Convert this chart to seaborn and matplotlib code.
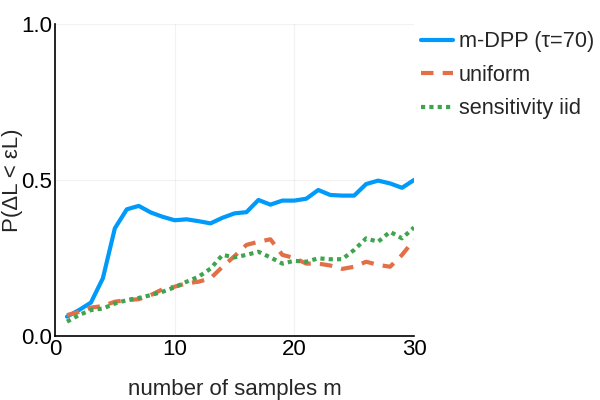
import matplotlib
matplotlib.use("Agg")
import matplotlib.pyplot as plt
import seaborn as sns
import pandas as pd
import numpy as np

m = list(range(1, 31))
mdpp = [0.062, 0.083, 0.107, 0.185, 0.345, 0.406, 0.417, 0.396, 0.382, 0.371,
        0.374, 0.368, 0.361, 0.379, 0.393, 0.397, 0.436, 0.421, 0.434, 0.434,
        0.440, 0.468, 0.452, 0.450, 0.450, 0.487, 0.498, 0.489, 0.475, 0.500]
uniform = [0.067, 0.077, 0.091, 0.096, 0.110, 0.115, 0.118, 0.131, 0.150, 0.158,
           0.169, 0.174, 0.185, 0.222, 0.256, 0.292, 0.302, 0.310, 0.260, 0.250,
           0.232, 0.232, 0.226, 0.215, 0.222, 0.238, 0.228, 0.222, 0.260, 0.308]
sens_iid = [0.046, 0.067, 0.083, 0.088, 0.104, 0.115, 0.122, 0.131, 0.142, 0.156,
            0.174, 0.190, 0.216, 0.260, 0.252, 0.260, 0.270, 0.252, 0.232, 0.241,
            0.238, 0.249, 0.246, 0.246, 0.276, 0.313, 0.302, 0.334, 0.313, 0.348]
series_names = ["m-DPP (τ=70)", "uniform", "sensitivity iid"]
x_ticks = [0, 10, 20, 30]
y_ticks = [0.0, 0.5, 1.0]
y_tick_labels = ["0.0", "0.5", "1.0"]

df = pd.DataFrame({
    "m": m * 3,
    "p": mdpp + uniform + sens_iid,
    "method": [series_names[0]] * 30 + [series_names[1]] * 30 + [series_names[2]] * 30,
})

sns.set_style("white")
plt.rcParams['font.family'] = ['Liberation Sans', 'DejaVu Sans']

fig = plt.figure(figsize=(6, 4), dpi=100)
ax = fig.add_axes([55/600, 64/400, (414-55)/600, (336-24)/400])

palette = {series_names[0]: "#009AFA", series_names[1]: "#E36F47", series_names[2]: "#3EA44E"}
dashes = {series_names[0]: "", series_names[1]: (3, 2.2), series_names[2]: (1, 1)}
sns.lineplot(data=df, x="m", y="p", hue="method", style="method",
             palette=palette, dashes=dashes, linewidth=3, ax=ax, legend=True)

ax.set_xlim(0, 30)
ax.set_ylim(0, 1)
ax.set_xticks(x_ticks)
ax.set_yticks(y_ticks)
ax.set_yticklabels(y_tick_labels)
ax.tick_params(axis="both", length=0, labelsize=16, pad=2, colors="black")
ax.grid(True, color="#000000", alpha=0.05, linewidth=0.8)
for s in ["top", "right"]:
    ax.spines[s].set_visible(False)
for s in ["left", "bottom"]:
    ax.spines[s].set_color("black")
    ax.spines[s].set_linewidth(1.2)
ax.set_xlabel("number of samples m", fontsize=16, labelpad=14)
ax.set_ylabel("P(ΔL < εL)", fontsize=16, va="center")
ax.yaxis.set_label_coords(-0.117, 0.5)

handles, labels = ax.get_legend_handles_labels()
ax.legend_.remove()
fig.legend(handles, labels, loc="upper left", bbox_to_anchor=(0.672, 0.965),
           frameon=False, fontsize=15.7, handlelength=1.5, handletextpad=0.25,
           labelspacing=0.57, borderpad=0.3)

fig.savefig("out.png", dpi=100)
